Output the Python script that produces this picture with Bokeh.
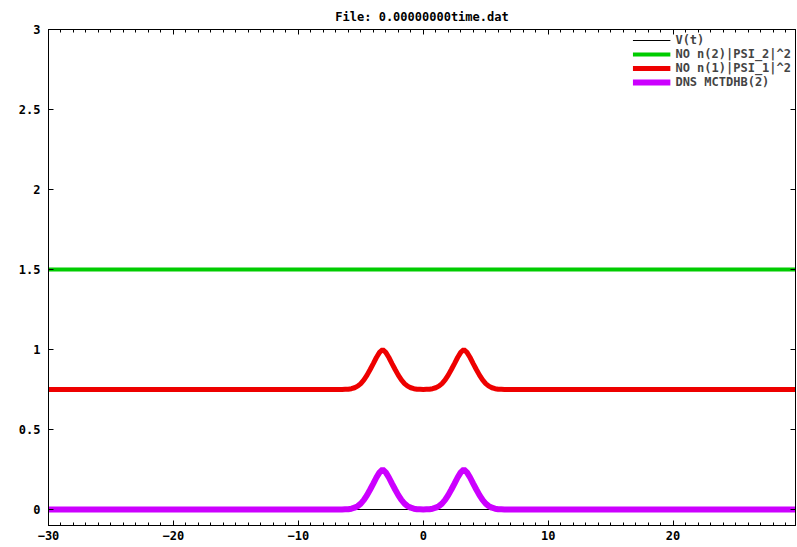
from bokeh.plotting import figure
from bokeh.models import (Range1d, LinearAxis, SingleIntervalTicker, FixedTicker,
                          Legend, LegendItem, CustomLabelingPolicy)
from bokeh.embed import file_html
from bokeh.resources import INLINE

# ---------------- data ----------------
title_text = "File: 0.00000000time.dat"

x_line = [-30.0, 29.8]
v_t = [0.0, 0.0]
psi2 = [1.5, 1.5]

x_pk = [-30.0, -6.5, -6.25, -6.0, -5.75, -5.5, -5.25, -5.0, -4.75, -4.5, -4.25,
        -4.0, -3.75, -3.5, -3.25, -3.0, -2.75, -2.5, -2.25, -2.0, -1.75, -1.5,
        -1.25, -1.0, -0.75, -0.5, -0.25, 0.0, 0.25, 0.5, 0.75, 1.0, 1.25, 1.5,
        1.75, 2.0, 2.25, 2.5, 2.75, 3.0, 3.25, 3.5, 3.75, 4.0, 4.25, 4.5, 4.75,
        5.0, 5.25, 5.5, 5.75, 6.0, 6.25, 6.5, 29.8]

dns = [0.0, 0.0, 0.001, 0.002, 0.005, 0.011, 0.021, 0.037, 0.060, 0.090, 0.125,
       0.162, 0.200, 0.232, 0.250, 0.232, 0.200, 0.162, 0.125, 0.090, 0.060, 0.037,
       0.021, 0.011, 0.005, 0.002, 0.001, 0.0, 0.001, 0.002, 0.005, 0.011, 0.021,
       0.037, 0.060, 0.090, 0.125, 0.162, 0.200, 0.232, 0.250, 0.232, 0.200, 0.162,
       0.125, 0.090, 0.060, 0.037, 0.021, 0.011, 0.005, 0.002, 0.001, 0.0, 0.0]

psi1 = [0.750, 0.750, 0.751, 0.752, 0.755, 0.761, 0.771, 0.787, 0.810, 0.840, 0.875,
        0.912, 0.950, 0.982, 1.000, 0.982, 0.950, 0.912, 0.875, 0.840, 0.810, 0.787,
        0.771, 0.761, 0.755, 0.752, 0.751, 0.750, 0.751, 0.752, 0.755, 0.761, 0.771,
        0.787, 0.810, 0.840, 0.875, 0.912, 0.950, 0.982, 1.000, 0.982, 0.950, 0.912,
        0.875, 0.840, 0.810, 0.787, 0.771, 0.761, 0.755, 0.752, 0.751, 0.750, 0.750]

labels = ["V(t)", "NO n(2)|PSI_2|^2", "NO n(1)|PSI_1|^2", "DNS MCTDHB(2)"]
colors = ["#000000", "#00cc00", "#ee0000", "#cc00ff"]

x_ticks = [-30, -20, -10, 0, 10, 20]
y_ticks = [0, 0.5, 1, 1.5, 2, 2.5, 3]

FONT = "DejaVu Sans Mono"
FSIZE = "12px"

# ---------------- figure ----------------
p = figure(width=797, height=547, output_backend="svg", toolbar_location=None,
           x_range=Range1d(-30, 29.8), y_range=Range1d(-0.1, 3),
           min_border_left=48, min_border_right=2, min_border_top=29,
           min_border_bottom=22, x_axis_type=None, y_axis_type=None)

p.title.text = title_text
p.title.align = "center"
p.title.vertical_align = "top"
p.title.text_font = FONT
p.title.text_font_size = FSIZE
p.title.text_font_style = "bold"
p.title.text_color = "#000000"
p.title.standoff = 8

p.outline_line_color = "#000000"
p.outline_line_width = 1
p.background_fill_color = "white"
p.border_fill_color = "white"

def style_axis(ax, show_labels):
    ax.major_tick_in = 5
    ax.major_tick_out = 0
    ax.minor_tick_in = 3
    ax.minor_tick_out = 0
    ax.axis_line_color = "#000000"
    ax.major_tick_line_color = "#000000"
    ax.minor_tick_line_color = "#000000"
    ax.major_label_text_font = FONT
    ax.major_label_text_font_size = FSIZE
    ax.major_label_text_font_style = "bold"
    ax.major_label_text_color = "#000000"
    if not show_labels:
        ax.major_label_policy = CustomLabelingPolicy(code="return []")
        ax.major_label_text_font_size = "0px"
        ax.major_label_standoff = 0

xb = LinearAxis(ticker=SingleIntervalTicker(interval=10, num_minor_ticks=10))
style_axis(xb, True)
xb.major_label_standoff = 5
p.add_layout(xb, "below")

xt = LinearAxis(ticker=SingleIntervalTicker(interval=10, num_minor_ticks=10))
style_axis(xt, False)
p.add_layout(xt, "above")

yl = LinearAxis(ticker=FixedTicker(ticks=y_ticks))
style_axis(yl, True)
yl.minor_tick_in = 0
yl.major_label_standoff = 8
p.add_layout(yl, "left")

yr = LinearAxis(ticker=FixedTicker(ticks=y_ticks))
style_axis(yr, False)
yr.minor_tick_in = 0
p.add_layout(yr, "right")

p.xgrid.ticker = FixedTicker(ticks=x_ticks)
p.ygrid.ticker = FixedTicker(ticks=y_ticks)
for g in (p.xgrid, p.ygrid):
    g.grid_line_color = "#a0a0a0"
    g.grid_line_dash = "1 3"
    g.grid_line_width = 1

# ---------------- series ----------------
r0 = p.line(x_line, v_t, color=colors[0], line_width=1)
r1 = p.line(x_line, psi2, color=colors[1], line_width=4)
r2 = p.line(x_pk, psi1, color=colors[2], line_width=5)
r3 = p.line(x_pk, dns, color=colors[3], line_width=6)

legend = Legend(items=[LegendItem(label=labels[0], renderers=[r0]),
                       LegendItem(label=labels[1], renderers=[r1]),
                       LegendItem(label=labels[2], renderers=[r2]),
                       LegendItem(label=labels[3], renderers=[r3])],
                location="top_right")
legend.border_line_color = None
legend.background_fill_alpha = 0
legend.label_text_font = FONT
legend.label_text_font_size = FSIZE
legend.label_text_font_style = "bold"
legend.glyph_width = 38
legend.glyph_height = 12
legend.label_height = 12
legend.spacing = 0
legend.padding = 2
legend.margin = 4
p.add_layout(legend, "center")

open("out.html", "w").write(file_html(p, INLINE))
